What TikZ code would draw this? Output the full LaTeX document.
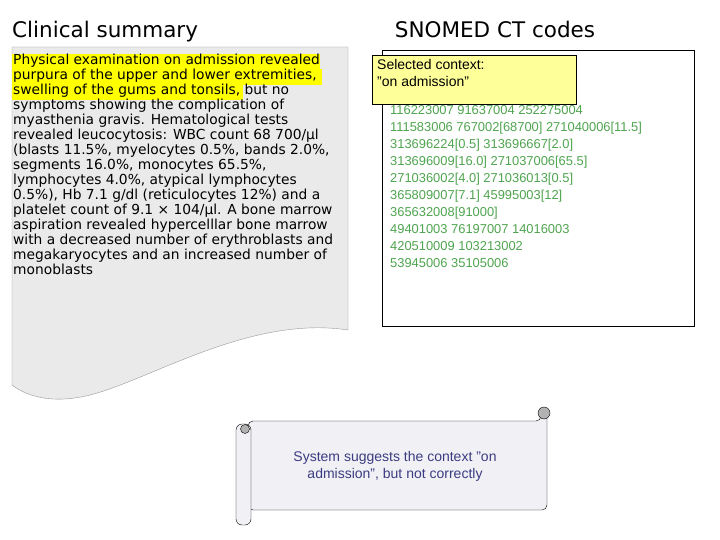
\documentclass[tikz,border=0pt]{standalone}
\usepackage{fontspec}
\setmainfont{Liberation Sans}
\newfontfamily\verd{DejaVu Sans}
\newcommand{\dq}{\symbol{34}}
\definecolor{docgray}{RGB}{234,234,234}
\definecolor{hl}{RGB}{255,255,0}
\definecolor{noteyel}{RGB}{255,255,153}
\definecolor{codegreen}{RGB}{80,165,80}
\definecolor{scrolltxt}{RGB}{60,60,130}
\definecolor{scrollfill}{RGB}{240,240,245}
\begin{document}
\begin{tikzpicture}[x=1pt,y=-1pt,
  title/.style={font=\verd\fontsize{21.5}{24}\selectfont,anchor=base west,inner sep=0},
  codes/.style={font=\fontsize{12.9}{17}\selectfont,text=codegreen,align=left,anchor=north west,inner sep=0}]
\useasboundingbox (0,0) rectangle (720,540);
\node[title] (t1) at (12,38) {Clinical summary};
\node[title,anchor=base] (t2) at (495,38) {SNOMED CT codes};
% document shape
\path[fill=docgray,draw=gray!80] (12,47) -- (348,47) -- (348,330) .. controls (250,315) and (150,380) .. (90,395) .. controls (50,405) and (25,395) .. (12,385) -- cycle;
\fill[hl] (12,54) rectangle (320,70);
\fill[hl] (12,69) rectangle (322,85);
\fill[hl] (12,84) rectangle (243,100);
\node[font=\verd\fontsize{13.8}{15}\selectfont,align=left,anchor=north west,inner sep=0] (doc) at (13,54) {Physical examination on admission revealed\\purpura of the upper and lower extremities,\\swelling of the gums and tonsils, but no\\symptoms showing the complication of\\myasthenia gravis. Hematological tests\\revealed leucocytosis: WBC count 68 700/µl\\(blasts 11.5\%, myelocytes 0.5\%, bands 2.0\%,\\segments 16.0\%, monocytes 65.5\%,\\lymphocytes 4.0\%, atypical lymphocytes\\0.5\%), Hb 7.1 g/dl (reticulocytes 12\%) and a\\platelet count of 9.1 × 104/µl. A bone marrow\\aspiration revealed hypercelllar bone marrow\\with a decreased number of erythroblasts and\\megakaryocytes and an increased number of\\monoblasts};
% codes box
\draw[fill=white] (382,50) rectangle (694,326);
\node[codes] (codes) at (390,105) {116223007 91637004 252275004\\111583006 767002[68700] 271040006[11.5]\\313696224[0.5] 313696667[2.0]\\313696009[16.0] 271037006[65.5]\\271036002[4.0] 271036013[0.5]\\365809007[7.1] 45995003[12]\\365632008[91000]\\49401003 76197007 14016003\\420510009 103213002\\53945006 35105006};
\node[draw,fill=noteyel,minimum width=204,minimum height=49,anchor=north west,inner sep=0] (ctx) at (372,55) {};
\node[font=\fontsize{14}{17}\selectfont,align=left,anchor=north west,inner sep=0] (ctxt) at (377,59) {Selected context:\\\dq on admission\dq};
% scroll
\draw[fill=scrollfill,rounded corners=5] (248,421) -- (541,421) -- (541,407) -- (547,413) -- (547,510) -- (248,510) -- cycle;
\draw[fill=scrollfill,rounded corners=6] (236,424) rectangle (251,525);
\draw[fill=gray!60] (544,413) circle (6);
\draw[fill=gray!60] (245,429) circle (4.5);
\node[font=\fontsize{14}{17}\selectfont,text=scrolltxt,align=center] (scr) at (395,466) {System suggests the context \dq on\\admission\dq, but not correctly};
\end{tikzpicture}
\end{document}
